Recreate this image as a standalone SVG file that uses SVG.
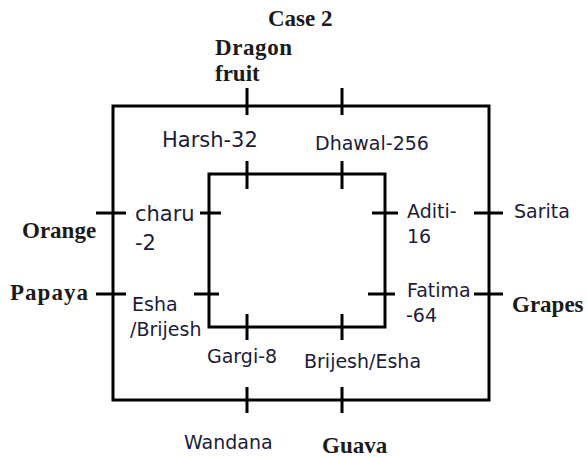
<svg xmlns="http://www.w3.org/2000/svg" width="587" height="457" viewBox="0 0 587 457">
<style>
.b{font-family:"Liberation Serif","Times New Roman",serif;font-weight:bold;font-size:23px;fill:#1a1a1a}
.n{font-family:"DejaVu Sans","Liberation Sans",sans-serif;font-size:19px;fill:#1c1c3a}
.l{font-family:"DejaVu Sans","Liberation Sans",sans-serif;font-size:21px;fill:#1c1c3a}
.ln{fill:none;stroke:#000;stroke-width:3}
</style>
<rect width="587" height="457" fill="#fff"/>
<g id="connectors">
<rect class="ln" x="113" y="106" width="376" height="294"/>
<rect class="ln" x="209" y="174" width="176" height="153"/>
<path class="ln" d="M247 88V115M342 88V115M247 387V413M342 387V413M247 161V189M342 161V189M247 314V340M342 314V340M96 213H126M96 294H126M200 213H221M194 294H219M372 213H398M368 294H395M474 213H503M474 294H503"/>
</g>
<g id="title"><text class="b" x="268" y="26">Case 2</text></g>
<g id="dragon"><text class="b" x="215" y="55" textLength="77">Dragon</text><text class="b" x="215" y="81">fruit</text></g>
<g id="orange"><text class="b" x="22" y="238">Orange</text></g>
<g id="papaya"><text class="b" x="10" y="300" textLength="78">Papaya</text></g>
<g id="grapes"><text class="b" x="512" y="312">Grapes</text></g>
<g id="guava"><text class="b" x="322" y="453">Guava</text></g>
<g id="harsh"><text class="l" x="162" y="147">Harsh-32</text></g>
<g id="dhawal"><text class="n" x="315" y="150">Dhawal-256</text></g>
<g id="charu"><text class="l" x="135" y="221">charu</text><text class="l" x="135" y="250">-2</text></g>
<g id="aditi"><text class="n" x="407" y="218">Aditi-</text><text class="n" x="407" y="243">16</text></g>
<g id="sarita"><text class="n" x="514" y="218">Sarita</text></g>
<g id="esha"><text class="n" x="132" y="311">Esha</text><text class="n" x="130" y="336">/Brijesh</text></g>
<g id="fatima"><text class="n" x="407" y="297">Fatima</text><text class="n" x="406" y="322">-64</text></g>
<g id="gargi"><text class="n" x="207" y="363">Gargi-8</text></g>
<g id="brijesh"><text class="n" x="304" y="368">Brijesh/Esha</text></g>
<g id="wandana"><text class="n" x="184" y="449">Wandana</text></g>
</svg>
